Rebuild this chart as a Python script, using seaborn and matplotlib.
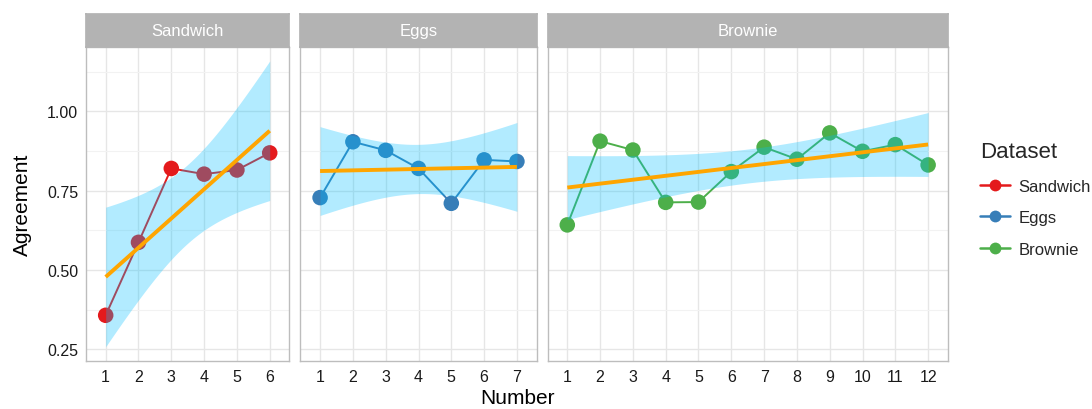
import math
import numpy as np
import pandas as pd
import matplotlib
matplotlib.use("Agg")
import matplotlib.pyplot as plt
from matplotlib.lines import Line2D
import seaborn as sns

# ---- data -------------------------------------------------------------
datasets = ["Sandwich", "Eggs", "Brownie"]
sandwich = [0.357, 0.587, 0.820, 0.802, 0.815, 0.869]
eggs = [0.728, 0.904, 0.877, 0.820, 0.710, 0.847, 0.842]
brownie = [0.642, 0.906, 0.878, 0.713, 0.714, 0.810, 0.887, 0.849,
           0.932, 0.874, 0.895, 0.831]
palette = {"Sandwich": "#E41A1C", "Eggs": "#377EB8", "Brownie": "#4DAF4A"}
y_ticks = [0.25, 0.50, 0.75, 1.00]
y_tick_labels = ["0.25", "0.50", "0.75", "1.00"]

frames = []
for name, vals in zip(datasets, [sandwich, eggs, brownie]):
    frames.append(pd.DataFrame({"Number": np.arange(1, len(vals) + 1),
                                "Agreement": vals, "Dataset": name}))
df = pd.concat(frames, ignore_index=True)


# ---- linear fit with 95% confidence band -------------------------------
def t_crit(dof, level=0.975):
    grid = np.linspace(0, 30, 300001)
    c = math.gamma((dof + 1) / 2) / (math.sqrt(dof * math.pi) * math.gamma(dof / 2))
    pdf = c * (1 + grid ** 2 / dof) ** (-(dof + 1) / 2)
    cdf = 0.5 + np.concatenate([[0.0], np.cumsum((pdf[1:] + pdf[:-1]) / 2 * np.diff(grid))])
    return float(np.interp(level, cdf, grid))


def lm_band(x, y, n_grid=80):
    x = np.asarray(x, float)
    y = np.asarray(y, float)
    n = len(x)
    slope, intercept = np.polyfit(x, y, 1)
    resid = y - (intercept + slope * x)
    s = np.sqrt(np.sum(resid ** 2) / (n - 2))
    xg = np.linspace(x.min(), x.max(), n_grid)
    yg = intercept + slope * xg
    se = s * np.sqrt(1 / n + (xg - x.mean()) ** 2 / np.sum((x - x.mean()) ** 2))
    t = t_crit(n - 2)
    return xg, yg, yg - t * se, yg + t * se


fits = {}
for name in datasets:
    sub = df[df["Dataset"] == name]
    fits[name] = lm_band(sub["Number"], sub["Agreement"])

lo = min(df["Agreement"].min(), min(f[2].min() for f in fits.values()))
hi = max(df["Agreement"].max(), max(f[3].max() for f in fits.values()))
pad = 0.05 * (hi - lo)
ylim = (lo - pad, hi + pad)

# ---- styling ----------------------------------------------------------
sns.set_theme(style="white")
plt.rcParams["font.family"] = ["Liberation Sans", "DejaVu Sans"]

W, H = 1092, 410
fig = plt.figure(figsize=(W / 100, H / 100), dpi=100)


def px_axes(left, top, right, bottom):
    return fig.add_axes([left / W, 1 - bottom / H, (right - left) / W, (bottom - top) / H])


panel_x = {"Sandwich": (86, 289.4), "Eggs": (300.4, 536.6), "Brownie": (547.6, 947.8)}
panel_top, panel_bottom, strip_top = 47.7, 362, 14.5
border = "#BDBDBD"
grid_major = "#E6E6E6"
grid_minor = "#F2F2F2"

for i, name in enumerate(datasets):
    left, right = panel_x[name]
    ax = px_axes(left, panel_top, right, panel_bottom)
    sub = df[df["Dataset"] == name]
    n = len(sub)

    sns.lineplot(data=sub, x="Number", y="Agreement", hue="Dataset",
                 palette=palette, legend=False, linewidth=1.4, ax=ax, zorder=2)
    sns.scatterplot(data=sub, x="Number", y="Agreement", hue="Dataset",
                    palette=palette, legend=False, s=125, edgecolor="none",
                    linewidth=0, ax=ax, zorder=3)
    xg, yg, ylo, yhi = fits[name]
    ax.fill_between(xg, ylo, yhi, color="deepskyblue", alpha=0.3,
                    linewidth=0, zorder=4)
    ax.plot(xg, yg, color="orange", linewidth=2.8, zorder=5,
            solid_capstyle="butt")

    ax.set_xlim(0.4, n + 0.6)
    ax.set_ylim(*ylim)
    ax.set_xticks(np.arange(1, n + 1))
    ax.set_xticklabels([str(v) for v in range(1, n + 1)])
    ax.set_yticks(y_ticks)
    ax.set_yticks([0.375, 0.625, 0.875, 1.125], minor=True)
    if i == 0:
        ax.set_yticklabels(y_tick_labels)
    else:
        ax.set_yticklabels([])

    ax.set_xlabel("")
    ax.set_ylabel("")
    ax.grid(True, which="major", color=grid_major, linewidth=1.0, zorder=0)
    ax.grid(True, which="minor", axis="y", color=grid_minor, linewidth=0.8, zorder=0)
    ax.set_axisbelow(True)
    for sp in ax.spines.values():
        sp.set_color(border)
        sp.set_linewidth(1.0)
    ax.tick_params(axis="both", which="major", labelsize=11.5, colors="#1A1A1A",
                   color=border, length=3, width=0.8, pad=2.5)
    ax.tick_params(axis="y", which="minor", length=0)
    if i > 0:
        ax.tick_params(axis="y", which="major", length=0)

    # facet strip
    sax = px_axes(left, strip_top, right, panel_top)
    sax.set_facecolor("#B3B3B3")
    sax.set_xticks([])
    sax.set_yticks([])
    for sp in sax.spines.values():
        sp.set_color("#B3B3B3")
    sax.text(0.5, 0.5, name, ha="center", va="center", color="white",
             fontsize=12, transform=sax.transAxes)

# axis titles
fig.text(517 / W, 1 - 399 / H, "Number", ha="center", va="center",
         fontsize=15, color="black")
fig.text(22 / W, 1 - 205 / H, "Agreement", ha="center", va="center",
         fontsize=15, color="black", rotation=90)

# legend
handles = [Line2D([0], [0], color=palette[nm], linewidth=1.8, marker="o",
                  markersize=8.5, markeredgewidth=0) for nm in datasets]
leg = fig.legend(handles, datasets, title="Dataset", loc="upper left",
                 bbox_to_anchor=(980 / W, 1 - 142 / H), frameon=False,
                 fontsize=12, title_fontsize=16, handlelength=1.8,
                 labelspacing=1.0, handletextpad=0.5, borderaxespad=0,
                 borderpad=0)
leg._legend_box.align = "left"

fig.savefig("out.png", dpi=100)
